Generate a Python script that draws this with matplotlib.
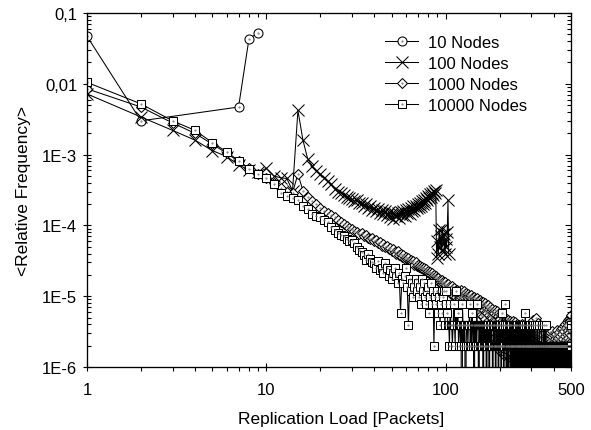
import numpy as np
import matplotlib.pyplot as plt
from matplotlib.ticker import FixedLocator, FixedFormatter, LogLocator, NullFormatter

plt.rcParams['font.family'] = ['Liberation Sans', 'DejaVu Sans']

# ----------------------------------------------------------------------
# data (relative frequency per replication load)
# ----------------------------------------------------------------------
nodes10_x = [1, 2, 7, 8, 9]
nodes10_y = [0.047, 0.0030, 0.0047, 0.043, 0.053]

# 100 nodes, x = 1..104, values in units of 1e-6
nodes100_y = [7200, 3400, 2200, 1600, 1140, 940, 720, 600, 560, 640,
              500, 470, 460, 310, 4200, 1600, 870, 700, 590, 530,
              470, 420, 380, 330, 300, 290, 270, 250, 240, 235,
              220, 230, 205, 210, 190, 200, 175, 185, 165, 175,
              160, 170, 150, 165, 145, 160, 140, 155, 130, 150,
              125, 145, 135, 150, 128, 155, 140, 160, 135, 165,
              150, 170, 145, 175, 160, 185, 165, 190, 175, 200,
              180, 210, 190, 220, 200, 230, 210, 245, 225, 260,
              240, 275, 255, 290, 270, 305, 290, 320, 35, 60,
              40, 85, 50, 70, 45, 90, 55, 75, 40, 65,
              50, 80, 225, 40]

# 1000 nodes, x = 1..500, values in units of 1e-6
nodes1000_y = [8500, 4700, 2800, 2000, 1400, 1050, 800, 640, 540, 470,
               400, 340, 300, 290, 530, 310, 250, 220, 200, 175,
               160, 150, 140, 130, 120, 110, 105, 98, 92, 88,
               84, 80, 76, 78, 70, 72, 66, 64, 66, 60,
               62, 56, 58, 52, 54, 50, 52, 46, 48, 44,
               46, 42, 40, 43, 38, 40, 36, 38, 34, 36,
               33, 35, 31, 32, 30, 31, 28, 30, 27, 28,
               26, 27, 25, 26, 24, 25, 23, 24, 22, 23,
               21, 22, 20, 21, 19, 20, 18, 19, 18, 17,
               18, 16, 17, 16, 17, 15, 16, 15, 16, 14,
               14.2, 12.6, 15.0, 11.8, 13.4, 12.1, 10.6, 13.9, 11.3, 12.7, 10.2, 13.1, 11.9, 9.8, 12.4, 10.9, 12.0, 9.4, 11.6, 10.5,
               12.2, 9.7, 11.1, 10.3, 8.9, 11.7, 9.9, 10.8, 8.5, 11.0, 9.6, 8.2, 10.6, 9.3, 10.1, 7.9, 9.8, 8.7, 10.3, 7.6,
               9.5, 8.4, 7.3, 9.9, 8.1, 9.1, 6.8, 8.8, 7.7, 9.4, 6.4, 8.5, 7.4, 5.9, 8.9, 7.1, 8.2, 5.5, 7.8, 6.7,
               8.4, 5.2, 7.5, 6.3, 4.8, 7.9, 6.0, 7.2, 4.3, 6.8, 5.7, 7.6, 3.9, 6.5, 5.4, 3.5, 7.0, 5.1, 6.2, 3.2,
               6.7, 4.9, 2.9, 6.0, 4.6, 5.7, 2.6, 6.4, 4.4, 2.3, 5.5, 4.1, 6.1, 2.1, 5.2, 3.9, 1.9, 5.8, 3.7, 5.0,
               1.7, 4.7, 3.5, 5.6, 2.0, 4.5, 3.3, 1.6, 5.3, 3.1, 4.3, 1.5, 2.9, 5.0, 3.0, 1.8, 4.1, 2.8, 4.8, 1.5,
               3.9, 2.7, 4.6, 1.7, 3.7, 2.5, 1.4, 4.4, 3.5, 2.4, 4.2, 1.6, 3.3, 2.3, 4.0, 1.4, 3.2, 4.5, 2.2, 1.5,
               3.8, 2.1, 3.0, 4.3, 1.4, 2.9, 3.6, 2.0, 1.3, 4.1, 2.8, 3.5, 1.5, 1.9, 3.9, 2.7, 1.3, 3.4, 1.8, 2.6,
               3.7, 1.4, 3.2, 2.5, 1.7, 4.0, 1.2, 3.1, 2.4, 3.6, 1.6, 1.3, 2.3, 3.5, 1.2, 3.0, 2.2, 1.5, 3.8, 2.1,
               1.2, 2.9, 3.4, 1.5, 2.0, 1.2, 3.3, 2.8, 1.4, 3.6, 1.9, 1.2, 2.7, 3.2, 1.4, 1.8, 3.5, 1.1, 2.6, 3.1,
               1.3, 1.8, 3.4, 1.1, 2.5, 3.0, 1.3, 4.6, 1.7, 1.1, 2.4, 3.3, 1.2, 2.9, 1.7, 1.1, 4.9, 2.3, 1.2, 3.2,
               1.6, 2.8, 1.1, 2.2, 3.1, 1.2, 1.6, 4.2, 1.1, 2.7, 2.1, 1.2, 3.0, 1.5, 1.1, 2.6, 3.9, 1.2, 2.0, 1.5,
               2.9, 1.1, 2.5, 1.2, 3.6, 1.4, 2.0, 1.1, 2.8, 1.2, 2.4, 3.3, 1.1, 1.4, 1.9, 2.7, 1.1, 1.2, 2.3, 3.0,
               1.1, 1.4, 2.6, 1.9, 1.2, 1.1, 2.2, 3.4, 1.3, 1.1, 2.5, 1.8, 1.2, 1.1, 2.9, 2.1, 1.3, 1.0, 2.4, 1.8,
               1.1, 3.1, 1.2, 2.0, 1.0, 2.3, 1.3, 1.7, 1.1, 2.7, 1.0, 1.2, 2.0, 3.2, 1.1, 1.6, 1.0, 2.2, 1.2, 2.8,
               1.0, 1.7, 1.1, 2.1, 3.0, 1.0, 1.2, 1.6, 2.5, 1.0, 1.1, 1.9, 2.9, 1.0, 1.2, 2.4, 1.6, 1.0, 3.3, 1.1,
               1.9, 1.0, 2.6, 1.2, 1.5, 1.0, 2.2, 3.1, 1.1, 1.0, 1.8, 2.7, 1.2, 1.0, 2.0, 1.5, 3.4, 1.0, 1.1, 2.3,
               1.7, 1.0, 2.9, 1.2, 1.1, 2.1, 1.6, 3.6, 1.0, 1.2, 2.5, 1.9, 1.0, 3.2, 1.3, 1.1, 2.2, 1.7, 3.8, 1.1,
               1.0, 2.7, 1.4, 2.0, 4.0, 1.1, 1.2, 2.4, 1.8, 3.5, 1.0, 1.3, 2.9, 4.3, 1.2, 2.1, 1.1, 3.3, 1.6, 4.6,
               1.2, 2.6, 3.9, 1.4, 1.1, 2.3, 4.8, 1.7, 3.0, 1.3, 5.0, 2.2, 1.2, 3.6, 4.4, 1.5, 2.8, 5.3, 3.4, 5.4]

# 10000 nodes, x = 1..39 in units of 1e-6
nodes10000_head = [10500, 5200, 3000, 2200, 1480, 1100, 820, 630, 530, 470,
                   380, 290, 260, 240, 230, 190, 170, 145, 135, 130,
                   120, 110, 94, 85, 78, 74, 70, 64, 60, 62,
                   56, 50, 45, 42, 38, 32, 40, 33, 30]
# x = 40..500 as counts of the smallest observed step (1.95e-6)
nodes10000_step = 1.95e-6
nodes10000_counts = [15, 13, 16, 12, 13, 11, 15, 13, 10, 12,
                     9, 11, 13, 10, 8, 11, 3, 9, 8, 10,
                     13, 7, 2, 9, 6, 8, 5, 7, 9, 6,
                     8, 5, 7, 4, 9, 6, 8, 5, 4, 6,
                     7, 3, 5, 8, 4, 6, 1, 5, 4, 6,
                     6, 3, 5, 2, 4, 6, 3, 5, 6, 2,
                     4, 6, 3, 2, 2, 1, 4, 2, 2, 1, 2, 4, 2, 1, 6, 2, 2, 3, 1, 2,
                     2, 1, 2, 0, 4, 2, 1, 2, 2, 0, 1, 2, 2, 1, 2, 2, 4, 1, 2, 1,
                     3, 2, 1, 2, 0, 2, 1, 2, 1, 4, 2, 2, 1, 0, 2, 1, 2, 2, 1, 2,
                     1, 2, 0, 2, 1, 2, 1, 1, 2, 0, 2, 1, 2, 2, 1, 0, 2, 1, 2, 1,
                     2, 1, 1, 0, 2, 2, 1, 2, 1, 1, 0, 2, 1, 2, 1, 1, 2, 0, 1, 2,
                     1, 2, 1, 1, 0, 2, 1, 3, 1, 2, 1, 0, 1, 2, 2, 4, 1, 1, 0, 2,
                     1, 2, 1, 0, 1, 2, 1, 1, 2, 0, 1, 1, 2, 1, 0, 1, 2, 1, 1, 0,
                     2, 1, 1, 2, 0, 1, 2, 1, 0, 1, 1, 2, 1, 0, 1, 2, 1, 1, 0, 2,
                     1, 1, 0, 2, 1, 1, 2, 0, 1, 1, 2, 1, 0, 1, 1, 2, 0, 1, 3, 1,
                     1, 0, 2, 1, 1, 0, 1, 2, 1, 0, 1, 1, 2, 0, 1, 1, 0, 2, 1, 1,
                     0, 1, 2, 1, 0, 1, 1, 0, 2, 1, 0, 1, 1, 0, 2, 1, 0, 1, 0, 1,
                     1, 0, 0, 1, 2, 0, 1, 0, 1, 1, 0, 0, 1, 2, 0, 1, 0, 1, 0, 0,
                     1, 1, 0, 2, 0, 1, 0, 1, 0, 1, 1, 0, 0, 2, 1, 0, 1, 0, 1, 0,
                     0, 1, 2, 0, 1, 0, 0, 1, 1, 0, 1, 0, 1, 0, 0, 1, 1, 0, 1, 0,
                     1, 0, 1, 1, 0, 0, 1, 0, 1, 0, 1, 1, 0, 1, 0, 0, 1, 0, 1, 1,
                     0, 1, 0, 1, 1, 0, 1, 0, 0, 1, 0, 1, 1, 0, 1, 0, 1, 0, 1, 0,
                     1, 1, 0, 1, 0, 1, 0, 1, 1, 0, 1, 0, 0, 1, 1, 0, 1, 0, 1, 1,
                     0, 1, 1, 0, 1, 0, 1, 1, 0, 1, 0, 1, 1, 0, 1, 1, 0, 1, 0, 1,
                     1, 0, 1, 1, 0, 1, 1, 0, 1, 0, 1, 1, 0, 1, 1, 0, 1, 1, 0, 1,
                     1, 1, 0, 1, 1, 0, 1, 1, 1, 0, 1, 1, 0, 1, 1, 1, 0, 1, 1, 0,
                     2]

x_ticks = [1, 10, 100, 500]
x_ticklabels = ['1', '10', '100', '500']
y_ticks = [1e-6, 1e-5, 1e-4, 1e-3, 1e-2, 1e-1]
y_ticklabels = ['1E-6', '1E-5', '1E-4', '1E-3', '0,01', '0,1']

# ----------------------------------------------------------------------
x100 = np.arange(1, len(nodes100_y) + 1)
y100 = np.array(nodes100_y) * 1e-6
x1000 = np.arange(1, len(nodes1000_y) + 1)
y1000 = np.array(nodes1000_y) * 1e-6
y10000 = np.concatenate([np.array(nodes10000_head) * 1e-6,
                         np.array(nodes10000_counts) * nodes10000_step])
x10000 = np.arange(1, len(y10000) + 1)

fig = plt.figure(figsize=(5.91, 4.31), dpi=100)
ax = fig.add_axes([0.1472, 0.1462, 0.8190, 0.8213])
ax.set_xscale('log')
ax.set_yscale('log')

style = dict(color='black', lw=0.75, mfc='white', mec='black', mew=0.75)
dot = dict(ls='none', marker='.', ms=1.0, color='0.45')
l10, = ax.plot(nodes10_x, nodes10_y, marker='o', ms=6.5, **style)
d10, = ax.plot(nodes10_x, nodes10_y, **dot)
l100, = ax.plot(x100, y100, marker='x', ms=8, **style)
l1000, = ax.plot(x1000, y1000, marker='D', ms=4.7, **style)
d1000, = ax.plot(x1000, y1000, **dot)
l10000, = ax.plot(x10000, y10000, marker='s', ms=5.5, **style)
d10000, = ax.plot(x10000, y10000, **dot)

ax.set_xlim(1, 500)
ax.set_ylim(1e-6, 0.1)

ax.xaxis.set_major_locator(FixedLocator(x_ticks))
ax.xaxis.set_major_formatter(FixedFormatter(x_ticklabels))
ax.xaxis.set_minor_locator(LogLocator(base=10, subs=np.arange(2, 10), numticks=50))
ax.xaxis.set_minor_formatter(NullFormatter())
ax.yaxis.set_major_locator(FixedLocator(y_ticks))
ax.yaxis.set_major_formatter(FixedFormatter(y_ticklabels))
ax.yaxis.set_minor_locator(LogLocator(base=10, subs=np.arange(2, 10), numticks=50))
ax.yaxis.set_minor_formatter(NullFormatter())

ax.tick_params(axis='x', which='major', direction='inout', length=6, width=0.8,
               labelsize=12, pad=8)
ax.tick_params(axis='x', which='minor', direction='out', length=3, width=0.8)
ax.tick_params(axis='y', which='major', direction='inout', length=6, width=0.8,
               labelsize=12, pad=4)
ax.tick_params(axis='y', which='minor', direction='in', length=3, width=0.8)
for sp in ax.spines.values():
    sp.set_linewidth(0.8)

# inward ticks on the top and right frame
top = ax.twiny()
top.set_xscale('log')
top.set_xlim(1, 500)
top.xaxis.set_major_locator(FixedLocator(x_ticks))
top.xaxis.set_minor_locator(LogLocator(base=10, subs=np.arange(2, 10), numticks=50))
top.tick_params(axis='x', which='both', direction='in', labeltop=False, width=0.8)
top.tick_params(axis='x', which='major', length=4)
top.tick_params(axis='x', which='minor', length=3)
right = ax.twinx()
right.set_yscale('log')
right.set_ylim(1e-6, 0.1)
right.yaxis.set_major_locator(FixedLocator(y_ticks))
right.yaxis.set_minor_locator(LogLocator(base=10, subs=np.arange(2, 10), numticks=50))
right.tick_params(axis='y', which='both', direction='in', labelright=False, width=0.8)
right.tick_params(axis='y', which='major', length=4)
right.tick_params(axis='y', which='minor', length=3)

ax.set_xlabel('Replication Load [Packets]', fontsize=12.5, labelpad=11)
ax.xaxis.set_label_coords(0.525, -0.125)
ax.set_ylabel('<Relative Frequency>', fontsize=12.5, labelpad=8)

ax.legend([(l10, d10), l100, (l1000, d1000), (l10000, d10000)],
          ['10 Nodes', '100 Nodes', '1000 Nodes', '10000 Nodes'],
          loc='upper left', bbox_to_anchor=(0.616, 0.937), frameon=False,
          fontsize=12, handlelength=2.0, handletextpad=0.55, labelspacing=0.36,
          borderpad=0, borderaxespad=0)

fig.savefig('out.png', dpi=100)
